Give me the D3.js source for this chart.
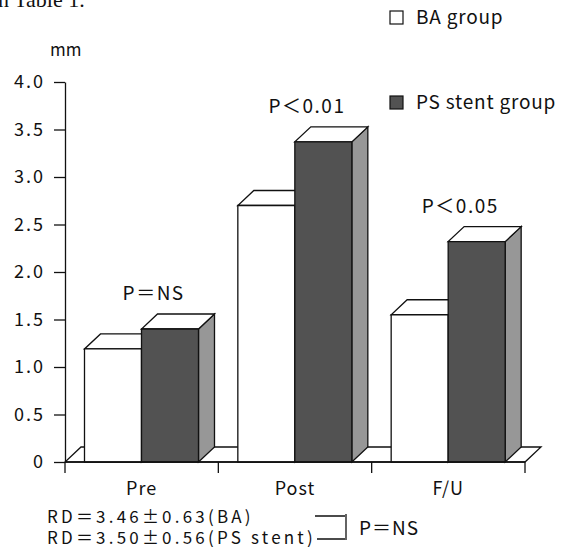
<!DOCTYPE html>
<html>
<head>
<meta charset="utf-8">
<script src="https://cdn.jsdelivr.net/npm/d3@7"></script>
<style>
body { margin: 0; background: #fff; }
text { font-family: "Noto Sans CJK JP", "Noto Sans", sans-serif; fill: #111; }
</style>
</head>
<body>
<svg id="chart" width="561" height="547"></svg>
<script>
// data
var categories = ["Pre", "Post", "F/U"];
var groups = ["BA group", "PS stent group"];
var baValues = [1.19, 2.70, 1.55];
var psValues = [1.40, 3.37, 2.32];
var pLabels = ["P＝NS", "P＜0.01", "P＜0.05"];
var yTicks = [0, 0.5, 1, 1.5, 2, 2.5, 3, 3.5, 4];
var rdLines = ["RD＝3.46±0.63(BA)", "RD＝3.50±0.56(PS stent)"];
var rdTest = "P＝NS";

var svg = d3.select("#chart");
var xLeft = 65, xRight = 525, yBottom = 462, yTop = 82;
var dx = 16, dy = 15;          // 3d depth
var stroke = "#111";
var darkFace = "#525252", sideFace = "#979797";

var x = d3.scaleBand().domain(categories).range([xLeft, xRight]);
var xSub = d3.scaleBand().domain(["BA", "PS"]).range([19.5, 133.5]);
var y = d3.scaleLinear().domain([0, 4]).range([yBottom, yTop]);
var w = xSub.bandwidth();

// cut-off caption from the page above
svg.append("text")
  .attr("x", -2).attr("y", 7)
  .style("font-family", "'Liberation Serif', serif")
  .style("font-size", "22px")
  .text("n Table 1.");

function poly(pts, fill) {
  svg.append("polygon")
    .attr("points", pts.map(function(p) { return p.join(","); }).join(" "))
    .attr("fill", fill)
    .attr("stroke", stroke)
    .attr("stroke-width", 1.3)
    .attr("stroke-linejoin", "miter");
}

// floor
poly([[xLeft, yBottom], [xRight, yBottom], [xRight + dx, yBottom - dy], [xLeft + dx, yBottom - dy]], "#fff");

// bars
for (var i = 0; i < categories.length; i++) {
  var c = categories[i];
  // BA
  var x1 = x(c) + xSub("BA"), t = y(baValues[i]);
  poly([[x1 + w, t], [x1 + w + dx, t - dy], [x1 + w + dx, yBottom - dy], [x1 + w, yBottom]], "#fff");
  poly([[x1, t], [x1 + w, t], [x1 + w + dx, t - dy], [x1 + dx, t - dy]], "#fff");
  poly([[x1, t], [x1 + w, t], [x1 + w, yBottom], [x1, yBottom]], "#fff");
  // PS stent
  var x2 = x(c) + xSub("PS"), t2 = y(psValues[i]);
  poly([[x2 + w, t2], [x2 + w + dx, t2 - dy], [x2 + w + dx, yBottom - dy], [x2 + w, yBottom]], sideFace);
  poly([[x2, t2], [x2 + w, t2], [x2 + w + dx, t2 - dy], [x2 + dx, t2 - dy]], "#fff");
  poly([[x2, t2], [x2 + w, t2], [x2 + w, yBottom], [x2, yBottom]], darkFace);

  svg.append("text")
    .attr("x", x(c) + x.bandwidth() / 2 + 12)
    .attr("y", t2 - dy - 14)
    .attr("text-anchor", "middle")
    .style("font-size", "19px")
    .style("letter-spacing", "1.5px")
    .text(pLabels[i]);
}

// y axis
var yAxis = svg.append("g")
  .attr("transform", "translate(" + xLeft + ",0)")
  .call(d3.axisLeft(y)
    .tickValues(yTicks)
    .tickSize(11)
    .tickSizeOuter(0)
    .tickPadding(9)
    .tickFormat(function(d) { return d === 0 ? "0" : d3.format(".1f")(d); }));
yAxis.select(".domain").attr("stroke", stroke).attr("stroke-width", 1.3);
yAxis.selectAll(".tick line").attr("stroke", stroke).attr("stroke-width", 1.3);
yAxis.selectAll(".tick text")
  .attr("fill", "#111")
  .style("font-family", "'Noto Sans CJK JP', sans-serif")
  .style("font-size", "18px")
  .style("letter-spacing", "2px");

svg.append("text")
  .attr("x", 50).attr("y", 56)
  .style("font-size", "17px")
  .text("mm");

// x axis
svg.append("line")
  .attr("x1", xLeft).attr("x2", xRight)
  .attr("y1", yBottom).attr("y2", yBottom)
  .attr("stroke", stroke).attr("stroke-width", 1.3);
var bounds = [xLeft].concat(categories.map(function(c) { return x(c) + x.bandwidth(); }));
svg.selectAll(".xtick").data(bounds).enter().append("line")
  .attr("x1", function(d) { return d; }).attr("x2", function(d) { return d; })
  .attr("y1", yBottom).attr("y2", yBottom + 11)
  .attr("stroke", stroke).attr("stroke-width", 1.3);
svg.selectAll(".xlab").data(categories).enter().append("text")
  .attr("x", function(d) { return x(d) + x.bandwidth() / 2; })
  .attr("y", 495)
  .attr("text-anchor", "middle")
  .style("font-size", "18px")
  .style("letter-spacing", "1px")
  .text(function(d) { return d; });

// legend
var legend = svg.append("g").attr("transform", "translate(390,0)");
groups.forEach(function(g, k) {
  var ly = k === 0 ? 24 : 109;
  legend.append("rect")
    .attr("x", 0).attr("y", ly - 13)
    .attr("width", 13).attr("height", 13)
    .attr("fill", k === 0 ? "#fff" : darkFace)
    .attr("stroke", stroke).attr("stroke-width", 1.2);
  legend.append("text")
    .attr("x", 26).attr("y", ly)
    .style("font-size", "19px")
    .style("letter-spacing", "0.8px")
    .text(g);
});

// reference diameter notes
rdLines.forEach(function(s, k) {
  svg.append("text")
    .attr("x", 47).attr("y", 523 + k * 21)
    .style("font-size", "17px")
    .style("letter-spacing", "3.2px")
    .text(s);
});
svg.append("path")
  .attr("d", "M315,516H345M317,539H345M346,514V540")
  .attr("fill", "none").attr("stroke", stroke).attr("stroke-width", 1.3);
svg.append("text")
  .attr("x", 359).attr("y", 535)
  .style("font-size", "19px")
  .style("letter-spacing", "1px")
  .text(rdTest);
</script>
</body>
</html>
